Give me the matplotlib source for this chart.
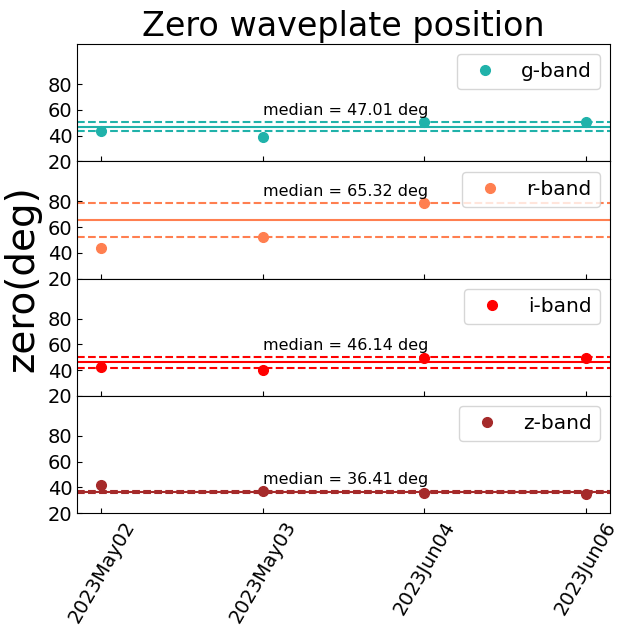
import numpy as np
import matplotlib
matplotlib.use('Agg')
import matplotlib.pyplot as plt

# Beobachtungsnaechte
dates = ['2023May02', '2023May03', '2023Jun04', '2023Jun06']
bands = ['g-band', 'r-band', 'i-band', 'z-band']
colors = ['lightseagreen', 'coral', 'red', 'brown']

# Nullpunkt der Waveplate (deg)
zero_g = [43.5, 39.2, 50.5, 50.8]
zero_r = [43.9, 52.3, 78.4, 125.0]   # letzter Wert ausserhalb des Plotbereichs
zero_i = [42.8, 40.0, 49.7, 49.5]
zero_z = [41.8, 37.2, 35.6, 35.0]

# Median und Streubereich (gestrichelte Linien)
medians = [47.01, 65.32, 46.14, 36.41]
lower = [43.3, 52.5, 42.0, 35.8]
upper = [50.8, 78.7, 50.0, 37.0]

zeros = [zero_g, zero_r, zero_i, zero_z]

fig, axes = plt.subplots(4, 1, figsize=(6.18, 6.32), dpi=100, sharex=True)
fig.subplots_adjust(left=0.125, right=0.987, top=0.930, bottom=0.188, hspace=0)

x = np.arange(len(dates))
for ax, band, c, vals, med, lo, hi in zip(axes, bands, colors, zeros, medians, lower, upper):
    ax.plot(x, vals, 'o', color=c, markersize=7, label=band)
    ax.axhline(med, color=c, lw=1.5)
    ax.axhline(lo, color=c, lw=1.5, ls='--')
    ax.axhline(hi, color=c, lw=1.5, ls='--')
    ax.text(1, hi + 3, f'median = {med:.2f} deg', fontsize=11.5, ha='left', va='bottom')
    ax.set_ylim(20, 111)
    ax.set_yticks([20, 40, 60, 80])
    ax.tick_params(direction='in', labelsize=14)
    ax.legend(loc='upper right', fontsize=14.5)

axes[-1].set_xlim(-0.15, 3.15)
axes[-1].set_xticks(x)
axes[-1].set_xticklabels(dates, rotation=60)
axes[0].set_title('Zero waveplate position', fontsize=24)
fig.text(0.037, 0.5 * (0.930 + 0.188), 'zero(deg)', rotation=90, fontsize=28,
         ha='center', va='center')

plt.savefig('out.png')
